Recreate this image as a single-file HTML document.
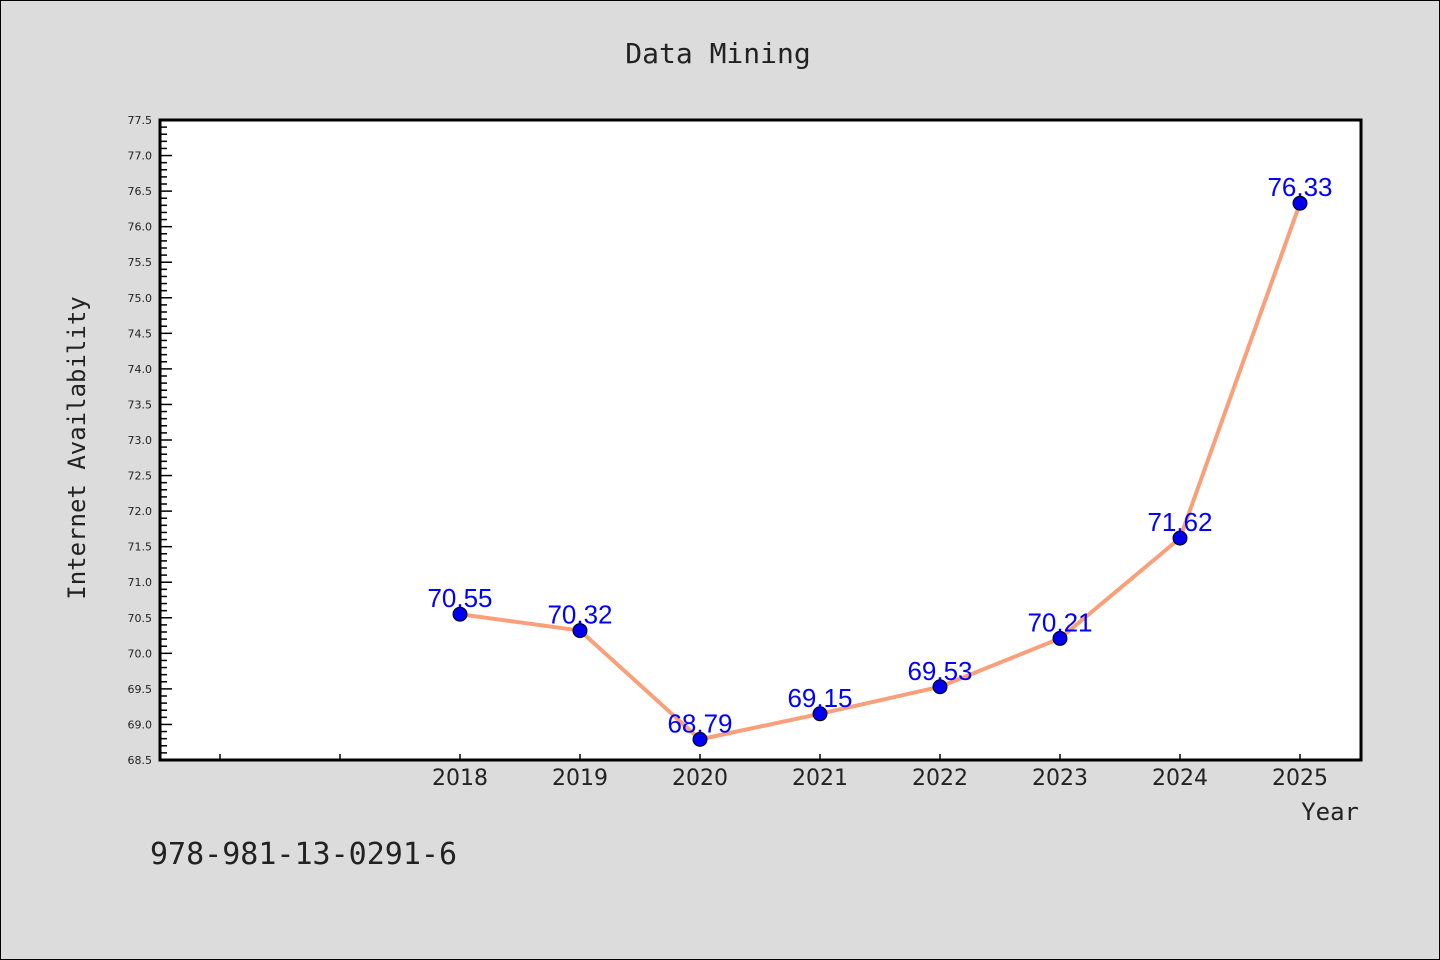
<!DOCTYPE html>
<html><head><meta charset="utf-8"><style>
body{margin:0;background:#dcdcdc;}
svg{display:block;}
</style></head><body>
<svg width="1440" height="960" xmlns="http://www.w3.org/2000/svg">
<rect x="0.5" y="0.5" width="1439" height="959" fill="#dcdcdc" stroke="#000"/>
<text x="718" y="63" font-family="DejaVu Sans Mono, monospace" font-size="28" text-anchor="middle" fill="#222">Data Mining</text>
<rect x="160" y="120" width="1201" height="640" fill="#fff"/>
<g id="yticks"></g><g id="xticks"></g>
<rect x="160" y="120" width="1201" height="640" fill="none" stroke="#000" stroke-width="3"/>
<g id="series"></g>
<text transform="translate(85,448) rotate(-90)" font-family="DejaVu Sans Mono, monospace" font-size="24" text-anchor="middle" fill="#222">Internet Availability</text>
<text x="1359" y="820" font-family="DejaVu Sans Mono, monospace" font-size="24" text-anchor="end" fill="#222">Year</text>
<text x="150" y="864" font-family="DejaVu Sans Mono, monospace" font-size="30" fill="#222">978-981-13-0291-6</text>
</svg>
<script>
const years=[2018,2019,2020,2021,2022,2023,2024,2025];
const values=[70.55,70.32,68.79,69.15,69.53,70.21,71.62,76.33];
const labels=["70.55","70.32","68.79","69.15","69.53","70.21","71.62","76.33"];
const xTickYears=[2016,2017,2018,2019,2020,2021,2022,2023,2024,2025];
const yMin=68.5,yMax=77.5;
const NS="http://www.w3.org/2000/svg";
function X(v){return 160+(v-2015.5)*120;}
function Y(v){return 760-(v-yMin)/(yMax-yMin)*640;}
function mk(t,a,p){const e=document.createElementNS(NS,t);for(const k in a)e.setAttribute(k,a[k]);p.appendChild(e);return e;}
const yt=document.getElementById('yticks');
for(let i=0;i<=90;i++){const v=yMin+i*0.1;const y=Y(v);const major=i%5===0;
 const l=mk('line',{x1:160,x2:major?172:167,y1:y,y2:y,stroke:'#000','stroke-width':1.5},yt);
 
 
 if(major){const t=mk('text',{x:152,y:y+4,'font-family':'DejaVu Sans, sans-serif','font-size':11,'text-anchor':'end',fill:'#222'},yt);t.textContent=v.toFixed(1);
 
 }}
const xt=document.getElementById('xticks');
xTickYears.forEach(yr=>{const x=X(yr);
 const l=mk('line',{x1:x,x2:x,y1:760,y2:754,stroke:'#000','stroke-width':1.5},xt);
 
 
 if(years.includes(yr)){const t=mk('text',{x:x,y:785,'font-family':'DejaVu Sans, sans-serif','font-size':22,'text-anchor':'middle',fill:'#222'},xt);t.textContent=yr;
 
 }});
const s=document.getElementById('series');
const pl=mk('polyline',{points:years.map((y,i)=>X(y)+','+Y(values[i])).join(' '),fill:'none',stroke:'#f9a07a','stroke-width':4,'stroke-linejoin':'round'},s);


years.forEach((yr,i)=>{const x=X(yr),y=Y(values[i]);
 const c=mk('circle',{cx:x,cy:y,r:7,fill:'#0000ee',stroke:'#000','stroke-width':1},s);
 
 
 const t=mk('text',{x:x,y:y-7,'font-family':'Liberation Sans, sans-serif','font-size':26,'text-anchor':'middle',fill:'#0000ff'},s);t.textContent=labels[i];
 
 });
</script>
</body></html>
